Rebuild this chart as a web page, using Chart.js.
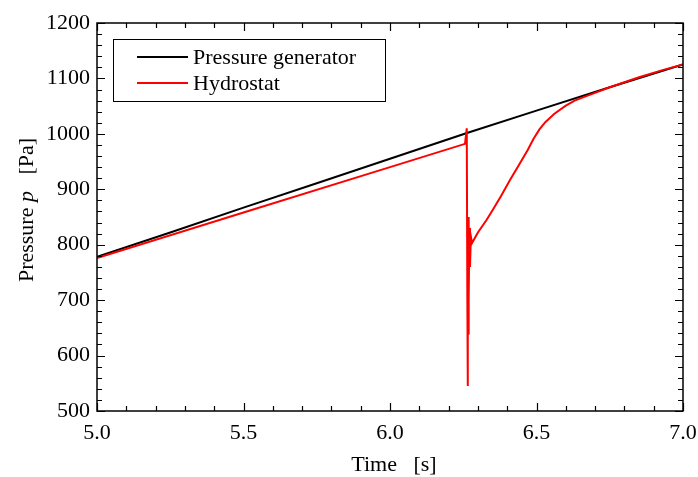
<!DOCTYPE html>
<html>
<head>
<meta charset="utf-8">
<script src="https://cdn.jsdelivr.net/npm/chart.js@4/dist/chart.umd.min.js"></script>
<style>
  html, body { margin: 0; padding: 0; background: #fff; }
  #wrap { width: 698px; height: 477px; }
</style>
</head>
<body>
<div id="wrap"><canvas id="line-chart" width="698" height="477"></canvas></div>
<script>
// data
const genTime = [5.0, 5.25, 5.5, 5.75, 6.0, 6.26, 6.5, 6.75, 7.0];
const genPressure = [778, 822, 867, 911, 955, 1001, 1042, 1084, 1125];

const hydTime = [5.0, 5.5, 6.0, 6.256, 6.262, 6.264, 6.265, 6.266, 6.267, 6.268, 6.269, 6.271, 6.273, 6.276, 6.28,
  6.3, 6.33, 6.35, 6.38, 6.41, 6.44, 6.47, 6.49, 6.51, 6.53, 6.56, 6.6, 6.63, 6.67, 6.75, 6.85, 6.93, 7.0];
const hydPressure = [776, 858, 940, 982, 1010, 700, 545, 760, 640, 850, 700, 830, 760, 815, 803,
  822, 845, 862, 889, 917, 944, 971, 991, 1008, 1021, 1036, 1051, 1060, 1068, 1084, 1102, 1115, 1125];

const seriesNames = ['Pressure generator', 'Hydrostat'];
const seriesColors = ['#000000', '#ff0000'];

const xTickValues = [5.0, 5.5, 6.0, 6.5, 7.0];
const yTickValues = [500, 600, 700, 800, 900, 1000, 1100, 1200];

const FONT = '22px "Liberation Serif", "Times New Roman", serif';

function toPoints(xs, ys) {
  var pts = [];
  for (var i = 0; i < xs.length; i++) pts.push({x: xs[i], y: ys[i]});
  return pts;
}

// frame, inward ticks, axis titles and boxed legend
const decor = {
  id: 'decor',
  afterDraw(chart) {
    const ctx = chart.ctx;
    const a = chart.chartArea;
    const xs = chart.scales.x, ys = chart.scales.y;
    ctx.save();
    ctx.strokeStyle = '#000';
    ctx.lineWidth = 1.5;
    ctx.strokeRect(a.left, a.top, a.right - a.left, a.bottom - a.top);

    ctx.lineWidth = 1.2;
    ctx.beginPath();
    for (var t = 0; t <= 20; t++) {
      var px = Math.round(xs.getPixelForValue(5 + t * 0.1)) + 0.5;
      var len = (t % 5 === 0) ? 8 : 5;
      ctx.moveTo(px, a.bottom); ctx.lineTo(px, a.bottom - len);
      ctx.moveTo(px, a.top); ctx.lineTo(px, a.top + len);
    }
    for (var v = 500; v <= 1200; v += 20) {
      var py = Math.round(ys.getPixelForValue(v)) + 0.5;
      var l2 = (v % 100 === 0) ? 8 : 5;
      ctx.moveTo(a.left, py); ctx.lineTo(a.left + l2, py);
      ctx.moveTo(a.right, py); ctx.lineTo(a.right - l2, py);
    }
    ctx.stroke();

    // axis titles
    ctx.fillStyle = '#000';
    ctx.textBaseline = 'middle';
    ctx.font = FONT;
    ctx.textAlign = 'center';
    ctx.fillText('Time   [s]', 394, 465);

    ctx.translate(27, 210);
    ctx.rotate(-Math.PI / 2);
    var p1 = 'Pressure ', p2 = 'p', p3 = '   [Pa]';
    ctx.font = FONT;
    var w1 = ctx.measureText(p1).width, w3 = ctx.measureText(p3).width;
    ctx.font = 'italic ' + FONT;
    var w2 = ctx.measureText(p2).width;
    var x0 = -(w1 + w2 + w3) / 2;
    ctx.textAlign = 'left';
    ctx.font = FONT;
    ctx.fillText(p1, x0, 0);
    ctx.font = 'italic ' + FONT;
    ctx.fillText(p2, x0 + w1, 0);
    ctx.font = FONT;
    ctx.fillText(p3, x0 + w1 + w2, 0);
    ctx.restore();

    // legend
    ctx.save();
    ctx.fillStyle = '#fff';
    ctx.fillRect(113, 39, 273, 62);
    ctx.strokeStyle = '#000';
    ctx.lineWidth = 1;
    ctx.strokeRect(113.5, 39.5, 272, 62);
    ctx.font = FONT;
    ctx.textBaseline = 'middle';
    ctx.textAlign = 'left';
    chart.data.datasets.slice().sort(function (p, q) { return p.legendIdx - q.legendIdx; }).forEach(function (ds, i) {
      var yy = 57 + i * 26;
      ctx.strokeStyle = ds.borderColor;
      ctx.lineWidth = 1.8;
      ctx.beginPath();
      ctx.moveTo(137, yy); ctx.lineTo(188, yy);
      ctx.stroke();
      ctx.fillStyle = '#000';
      ctx.fillText(ds.label, 193, yy + 1);
    });
    ctx.restore();
  }
};

const config = {
  type: 'line',
  data: {
    datasets: [
      {
        label: seriesNames[1],
        legendIdx: 1,
        data: toPoints(hydTime, hydPressure),
        borderColor: seriesColors[1],
        borderWidth: 2,
        pointRadius: 0,
        tension: 0,
        order: 0
      },
      {
        label: seriesNames[0],
        legendIdx: 0,
        data: toPoints(genTime, genPressure),
        borderColor: seriesColors[0],
        borderWidth: 2,
        pointRadius: 0,
        tension: 0,
        order: 1
      }
    ]
  },
  options: {
    responsive: false,
    animation: false,
    events: [],
    layout: { padding: { left: 0, top: 23, right: 15, bottom: 0 } },
    plugins: {
      legend: { display: false },
      tooltip: { enabled: false }
    },
    scales: {
      x: {
        type: 'linear',
        min: 5, max: 7,
        afterFit: function (s) { s.height = 66; s.paddingLeft = 0; s.paddingRight = 0; },
        afterBuildTicks: function (s) { s.ticks = xTickValues.map(function (v) { return {value: v}; }); },
        grid: { display: false, drawTicks: false },
        border: { display: false },
        ticks: {
          color: '#000',
          font: { family: '"Liberation Serif", serif', size: 22 },
          padding: 9,
          maxRotation: 0,
          callback: function (v) { return Number(v).toFixed(1); }
        }
      },
      y: {
        type: 'linear',
        min: 500, max: 1200,
        afterFit: function (s) { s.width = 97; s.paddingTop = 0; s.paddingBottom = 0; },
        afterBuildTicks: function (s) { s.ticks = yTickValues.map(function (v) { return {value: v}; }); },
        grid: { display: false, drawTicks: false },
        border: { display: false },
        ticks: {
          color: '#000',
          font: { family: '"Liberation Serif", serif', size: 22 },
          padding: 7,
          callback: function (v) { return String(v); }
        }
      }
    }
  },
  plugins: [decor]
};

window.onload = function () {
  var ctx = document.getElementById('line-chart').getContext('2d');
  window.myLine = new Chart(ctx, config);
};
</script>
</body>
</html>
